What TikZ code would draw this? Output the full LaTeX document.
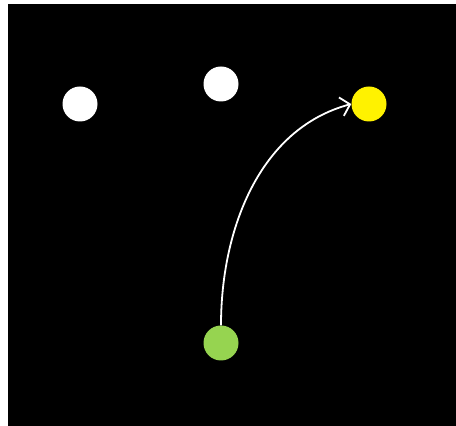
\documentclass[tikz,border=0pt]{standalone}
\usepackage{xcolor}
\usepackage{tikz}
\usetikzlibrary{arrows.meta}
\definecolor{leafgreen}{RGB}{150,212,80}
\tikzset{
  dot/.style={circle, inner sep=0pt, minimum size=35pt},
  plain/.style={dot, fill=white},
  target/.style={dot, fill=yellow},
  source/.style={dot, fill=leafgreen},
  flow/.style={-{Straight Barb[length=9pt,width=19pt]}, white, line width=1.8pt},
}
\begin{document}
\begin{tikzpicture}[x=1pt,y=1pt]
\useasboundingbox (0,0) rectangle (456,426);
\fill[black] (8,0) rectangle (456,422);
\node[plain] (p1) at (80,322) {};
\node[plain] (p2) at (221,342) {};
\node[target] (t) at (369,322) {};
\node[source] (s) at (221,83) {};
\draw[flow] (s.north) to[out=90, in=195, looseness=0.95] (t.west);
\end{tikzpicture}
\end{document}
